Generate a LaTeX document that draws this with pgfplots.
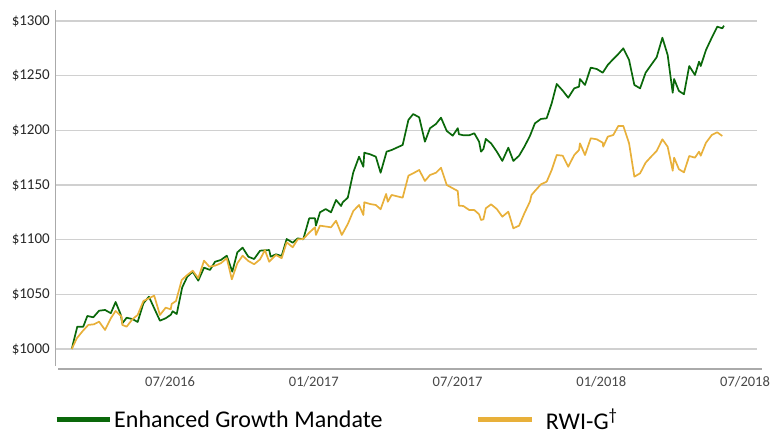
\documentclass[border=0pt]{standalone}
\usepackage{pgfplots}
\pgfplotsset{compat=1.18}
\usepackage{fontspec}
\setmainfont{Carlito}
\definecolor{egm}{RGB}{10,104,10}
\definecolor{rwi}{RGB}{232,176,58}
\definecolor{gridc}{RGB}{208,208,208}
\definecolor{axc}{RGB}{170,170,170}
\pgfplotsset{
  egmleg/.style={legend image code/.code={\draw[##1, line width=5pt] (0pt,0pt) -- (53pt,0pt);}},
  rwileg/.style={legend image code/.code={\draw[##1, line width=5pt] (0pt,0pt) -- (54pt,0pt); \path (65pt,0pt);}},
}
\pgfplotstableread{
m v
1.90 1000.0
2.13 1020.4
2.38 1020.4
2.55 1030.2
2.80 1029.0
3.04 1035.0
3.29 1035.7
3.53 1032.7
3.73 1043.0
3.94 1031.7
4.01 1023.5
4.19 1028.6
4.43 1027.4
4.65 1024.7
4.89 1041.8
5.12 1047.8
5.58 1025.9
5.82 1028.1
6.04 1031.4
6.11 1034.5
6.28 1032.0
6.51 1056.4
6.72 1066.1
6.95 1070.7
7.18 1062.5
7.42 1074.4
7.67 1072.3
7.88 1079.8
8.12 1081.4
8.37 1085.3
8.60 1070.7
8.81 1088.4
9.03 1092.7
9.27 1084.4
9.51 1082.3
9.76 1089.9
9.96 1090.3
10.14 1090.5
10.20 1084.4
10.42 1086.6
10.66 1085.1
10.87 1100.6
11.12 1097.2
11.33 1101.2
11.56 1100.3
11.81 1119.5
12.05 1119.5
12.09 1112.8
12.26 1125.0
12.50 1128.0
12.72 1125.0
12.93 1136.3
13.14 1130.8
13.21 1134.2
13.42 1138.4
13.65 1161.6
13.89 1175.9
14.07 1166.7
14.11 1179.5
14.35 1178.1
14.59 1175.9
14.79 1161.2
15.04 1180.5
15.25 1182.0
15.71 1186.6
15.95 1209.5
16.15 1214.9
16.40 1211.9
16.64 1189.6
16.85 1201.9
17.10 1205.8
17.31 1211.6
17.55 1199.4
17.80 1195.1
18.01 1201.9
18.06 1196.4
18.24 1195.5
18.49 1195.5
18.70 1197.3
18.90 1189.6
18.98 1180.5
19.08 1182.9
19.18 1192.1
19.40 1188.1
19.64 1180.5
19.87 1172.0
20.12 1184.1
20.33 1172.0
20.57 1176.8
20.79 1185.0
21.02 1194.8
21.23 1206.4
21.48 1210.4
21.72 1211.0
21.93 1224.7
22.14 1242.4
22.39 1236.3
22.62 1229.8
22.87 1238.4
23.07 1239.9
23.11 1246.9
23.32 1241.5
23.56 1257.3
23.81 1256.1
24.06 1252.7
24.27 1259.8
24.50 1265.2
24.71 1269.8
24.92 1275.0
25.16 1264.3
25.38 1241.5
25.62 1238.4
25.85 1252.7
26.08 1259.8
26.31 1266.8
26.55 1284.7
26.77 1268.9
26.98 1234.4
27.04 1246.9
27.24 1236.0
27.45 1233.0
27.67 1258.8
27.91 1250.6
28.08 1262.8
28.15 1258.8
28.37 1273.5
28.61 1284.7
28.84 1294.8
29.05 1293.3
29.12 1295.7
}\egmdata
\pgfplotstableread{
m v
1.90 1000.0
2.11 1009.8
2.36 1016.5
2.59 1022.0
2.83 1022.6
3.04 1025.0
3.29 1017.4
3.53 1028.1
3.73 1034.8
3.98 1029.5
4.01 1022.0
4.19 1020.4
4.43 1027.2
4.65 1031.1
4.89 1043.9
5.12 1046.4
5.34 1048.8
5.58 1031.1
5.82 1037.8
6.03 1036.3
6.07 1041.2
6.25 1043.9
6.49 1063.1
6.72 1067.7
6.95 1071.6
7.18 1064.7
7.42 1080.8
7.64 1075.3
7.88 1076.2
8.12 1078.4
8.37 1083.0
8.58 1063.7
8.81 1078.4
9.03 1085.3
9.27 1080.5
9.51 1077.5
9.76 1082.0
9.96 1090.5
10.14 1079.8
10.42 1086.0
10.66 1083.0
10.87 1097.6
11.12 1093.0
11.33 1100.3
11.56 1100.6
11.81 1106.4
12.05 1111.3
12.09 1104.3
12.26 1112.8
12.72 1111.3
12.93 1117.3
13.17 1104.3
13.42 1114.3
13.65 1126.2
13.89 1131.7
14.07 1122.6
14.11 1134.2
14.35 1132.6
14.59 1131.7
14.79 1127.8
15.02 1141.8
15.09 1134.7
15.25 1140.9
15.71 1138.4
15.95 1158.5
16.15 1160.7
16.40 1163.7
16.64 1153.7
16.85 1159.1
17.10 1161.2
17.31 1165.8
17.55 1150.0
17.80 1147.0
18.01 1144.5
18.06 1131.1
18.24 1130.8
18.49 1127.1
18.70 1127.1
18.90 1123.2
18.98 1118.0
19.08 1118.6
19.18 1128.7
19.40 1132.3
19.64 1128.0
19.87 1121.0
20.12 1125.6
20.33 1110.4
20.57 1112.8
20.79 1124.1
21.02 1134.7
21.09 1140.9
21.23 1144.5
21.48 1150.6
21.72 1153.0
21.93 1163.7
22.14 1177.4
22.39 1176.8
22.62 1166.7
22.87 1177.4
23.07 1182.0
23.11 1188.1
23.32 1177.4
23.56 1192.7
23.81 1191.8
24.06 1188.7
24.08 1185.0
24.27 1194.2
24.50 1195.7
24.71 1204.0
24.92 1204.0
25.16 1188.1
25.38 1157.6
25.62 1160.7
25.85 1170.4
26.08 1175.9
26.31 1181.1
26.55 1191.8
26.77 1185.0
26.98 1163.1
27.04 1175.0
27.24 1164.4
27.45 1161.6
27.67 1176.5
27.91 1175.0
28.08 1180.5
28.15 1176.8
28.37 1188.7
28.61 1195.7
28.84 1198.2
29.05 1194.8
}\rwidata
\begin{document}
\begin{tikzpicture}
\begin{axis}[
  at={(56pt,61pt)}, anchor=south west,
  scale only axis, width=701pt, height=359pt,
  xmin=1.242, xmax=30.499, ymin=981.7, ymax=1310.06,
  axis line style={draw=none},
  major tick length=0pt,
  xtick={6,12,18,24,30},
  xticklabels={07/2016,01/2017,07/2017,01/2018,07/2018},
  ytick={1000,1050,1100,1150,1200,1250,1300},
  yticklabels={\$1000,\$1050,\$1100,\$1150,\$1200,\$1250,\$1300},
  ymajorgrids, grid style={gridc, line width=1.4pt},
  yticklabel style={font=\fontsize{15}{18}\selectfont, text=black!85, anchor=east, inner sep=0pt, xshift=-6pt},
  xticklabel style={font=\fontsize{14.5}{17}\selectfont, text=black!72, anchor=center, inner sep=0pt, yshift=-13pt},
  legend columns=2,
  legend style={at={(rel axis cs:0,0)}, anchor=west, xshift=-2pt, yshift=-51pt,
    draw=none, fill=none, inner sep=0pt,
    font=\fontsize{24}{28}\selectfont,
    /tikz/every even column/.append style={column sep=91pt}},
]
\addplot[egm, line width=1.7pt, line join=round, egmleg] table[x=m, y=v] {\egmdata};
\addlegendentry{Enhanced Growth Mandate}
\addplot[rwi, line width=1.7pt, line join=round, rwileg] table[x=m, y=v] {\rwidata};
\addlegendentry{RWI-G\textsuperscript{†}}
\end{axis}
\draw[axc, line width=1.3pt] (55.5pt,420pt) -- (55.5pt,64pt);
\draw[axc, line width=1.6pt] (58pt,61pt) -- (762pt,61pt);
\pgfresetboundingbox
\useasboundingbox (0,0) rectangle (776pt,430pt);
\end{tikzpicture}
\end{document}
